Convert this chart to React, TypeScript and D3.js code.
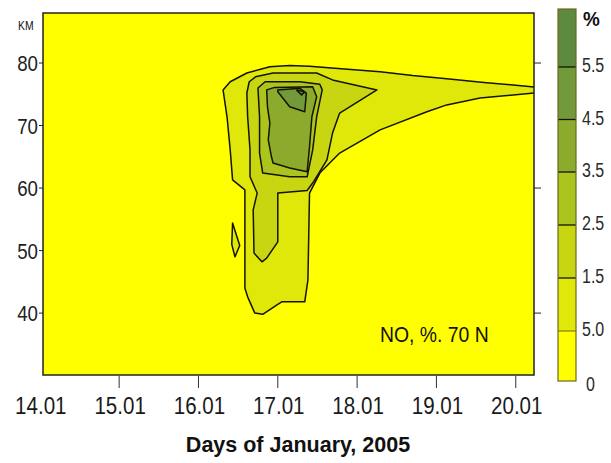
import React from "react";
import * as d3 from "d3";

const W = 611;
const H = 463;

// ---- axis data ----
const dayTicks = [14, 15, 16, 17, 18, 19, 20];
const dayTickLabels = ["14.01", "15.01", "16.01", "17.01", "18.01", "19.01", "20.01"];
const altTicks = [40, 50, 60, 70, 80];
const rightAltTicks = [40, 60, 80];

// ---- legend data ----
const levels = [0.5, 1.5, 2.5, 3.5, 4.5, 5.5];
const levelLabels = ["5.0", "1.5", "2.5", "3.5", "4.5", "5.5"];
const bandLows = [0, 0.5, 1.5, 2.5, 3.5, 4.5, 5.5];
const bandHighs = [0.5, 1.5, 2.5, 3.5, 4.5, 5.5, 6.5];
const bandColors = ["#ffff00", "#e0e80a", "#c8d612", "#abc41e", "#8cab2c", "#72993a", "#5c8a3e"];

// ---- contour lines, digitised as [day, altitude km] ----
const contour05Main: [number, number][] = [
  [16.31, 75.7], [16.4, 77.0], [16.61, 78.4], [16.9, 79.4], [17.15, 79.6], [17.4, 79.5],
  [17.8, 79.1], [18.29, 78.6], [18.7, 78.0], [19.13, 77.5], [19.6, 76.9], [20.3, 76.1],
  [20.3, 75.3], [19.55, 74.4], [19.13, 73.3], [18.88, 72.2], [18.29, 69.3], [17.78, 65.6],
  [17.53, 62.4], [17.4, 59.2], [17.38, 45.3], [17.34, 41.8], [17.05, 41.8], [16.99, 41.3],
  [16.81, 39.8], [16.71, 40.0], [16.62, 42.6], [16.585, 44.0], [16.585, 59.7], [16.43, 61.3],
  [16.4, 66.1], [16.36, 71.4],
];
const contour05Island: [number, number][] = [
  [16.43, 54.4], [16.52, 50.8], [16.46, 49.0], [16.42, 51.0],
];
const contour15: [number, number][] = [
  [16.61, 75.2], [16.64, 77.0], [16.72, 77.8], [16.94, 78.4], [17.49, 78.4], [17.69, 77.3],
  [18.25, 75.7], [17.78, 72.0], [17.69, 68.8], [17.62, 64.5], [17.44, 60.8], [17.37, 59.6],
  [17.0, 59.2], [17.0, 51.4], [16.86, 48.8], [16.8, 48.2], [16.7, 49.6], [16.69, 56.5],
  [16.74, 59.2], [16.65, 61.8], [16.65, 66.1], [16.62, 71.4],
];
const contour25: [number, number][] = [
  [16.75, 76.0], [16.84, 77.0], [17.28, 77.0], [17.53, 76.6], [17.56, 75.7], [17.49, 71.4],
  [17.44, 66.1], [17.38, 62.4], [17.37, 61.8], [17.15, 61.8], [16.81, 62.4], [16.77, 65.6],
  [16.77, 71.4],
];
const contour35: [number, number][] = [
  [16.86, 75.7], [16.96, 76.1], [17.44, 76.2], [17.49, 74.6], [17.43, 71.4], [17.4, 66.6],
  [17.37, 62.6], [17.15, 63.2], [16.94, 64.0], [16.92, 65.0], [16.88, 67.7], [16.9, 70.4],
  [16.87, 73.0],
];
const contour45: [number, number][] = [
  [17.0, 75.7], [17.28, 75.95], [17.36, 75.15], [17.34, 72.2], [17.15, 73.0], [17.0, 75.4],
];
const contour55: [number, number][] = [
  [17.24, 75.7], [17.34, 75.4], [17.3, 74.9], [17.24, 75.6],
];

const contourSet: { level: number; rings: [number, number][][] }[] = [
  { level: 0.5, rings: [contour05Main, contour05Island] },
  { level: 1.5, rings: [contour15] },
  { level: 2.5, rings: [contour25] },
  { level: 3.5, rings: [contour35] },
  { level: 4.5, rings: [contour45] },
  { level: 5.5, rings: [contour55] },
];

const FONT = "'Liberation Sans', Arial, sans-serif";

export default function App() {
  const plot = { left: 43, right: 534, top: 13, bottom: 375 };
  const x = d3.scaleLinear().domain([14.04, 20.23]).range([plot.left, plot.right]);
  const y = d3.scaleLinear().domain([30.1, 88]).range([plot.bottom, plot.top]);

  const line = d3
    .line<[number, number]>()
    .x((d) => x(d[0]))
    .y((d) => y(d[1]))
    .curve(d3.curveLinearClosed);

  const colorOf = d3.scaleThreshold<number, string>().domain(levels).range(bandColors);

  // legend scale (value -> y)
  const legX = 558;
  const legW = 18;
  const legY = d3
    .scaleLinear()
    .domain([0, 0.5, 1.5, 2.5, 3.5, 4.5, 5.5, 6.5])
    .range([381, 331, 278, 225, 172, 119.5, 67, 9]);

  return (
    <svg width={W} height={H} style={{ display: "block", position: "absolute", left: 0, top: 0 }}>
      <rect x={0} y={0} width={W} height={H} fill="#ffffff" />
      <defs>
        <clipPath id="plotClip">
          <rect x={plot.left} y={plot.top} width={plot.right - plot.left} height={plot.bottom - plot.top} />
        </clipPath>
      </defs>

      {/* plot background */}
      <rect
        x={plot.left}
        y={plot.top}
        width={plot.right - plot.left}
        height={plot.bottom - plot.top}
        fill={bandColors[0]}
      />

      {/* filled contours */}
      <g clipPath="url(#plotClip)">
        {contourSet.map((c) =>
          c.rings.map((r, i) => (
            <path
              key={`${c.level}-${i}`}
              d={line(r) || ""}
              fill={colorOf(c.level)}
              stroke="#141400"
              strokeWidth={1.5}
              strokeLinejoin="round"
            />
          ))
        )}
      </g>

      {/* plot frame */}
      <rect
        x={plot.left}
        y={plot.top}
        width={plot.right - plot.left}
        height={plot.bottom - plot.top}
        fill="none"
        stroke="#222"
        strokeWidth={1.5}
      />

      {/* left axis */}
      {altTicks.map((t) => (
        <g key={`ya${t}`}>
          <line x1={plot.left - 4} x2={plot.left} y1={y(t)} y2={y(t)} stroke="#222" strokeWidth={1} />
          <text
            transform={`translate(${plot.left - 5},${y(t) + 8}) scale(0.85,1)`}
            textAnchor="end"
            fontFamily={FONT}
            fontSize={22}
            fill="#222"
          >
            {t}
          </text>
        </g>
      ))}
      <text transform={`translate(18,30) scale(0.8,1)`} fontFamily={FONT} fontSize={13} fill="#111">
        KM
      </text>

      {/* right ticks */}
      {rightAltTicks.map((t) => (
        <line key={`yr${t}`} x1={plot.right} x2={plot.right + 7} y1={y(t)} y2={y(t)} stroke="#222" strokeWidth={1} />
      ))}

      {/* bottom axis */}
      {dayTicks.map((d, i) => (
        <g key={`xd${d}`}>
          {x(d) > plot.left + 1 && (
            <line x1={x(d)} x2={x(d)} y1={plot.bottom + 1} y2={plot.bottom + 13} stroke="#333" strokeWidth={1} />
          )}
          <text
            transform={`translate(${x(d) + 1},${414}) scale(0.84,1)`}
            textAnchor="middle"
            fontFamily={FONT}
            fontSize={24.5}
            fill="#1a1a1a"
          >
            {dayTickLabels[i]}
          </text>
        </g>
      ))}
      <text
        x={298}
        y={452}
        textAnchor="middle"
        fontFamily={FONT}
        fontSize={21.5}
        fontWeight="bold"
        fill="#111"
      >
        Days of January, 2005
      </text>

      {/* annotation */}
      <text transform={`translate(380,342) scale(0.88,1)`} fontFamily={FONT} fontSize={22} fill="#111">
        NO, %. 70 N
      </text>

      {/* colour bar */}
      {bandLows.map((lo, i) => (
        <rect
          key={`lb${i}`}
          x={legX}
          y={legY(bandHighs[i])}
          width={legW}
          height={legY(lo) - legY(bandHighs[i])}
          fill={bandColors[i]}
        />
      ))}
      {levels.map((lv, i) => (
        <line
          key={`ll${i}`}
          x1={legX}
          x2={legX + legW}
          y1={legY(lv)}
          y2={legY(lv)}
          stroke={i === 0 ? "#8a8a10" : "#141400"}
          strokeWidth={1.3}
        />
      ))}
      <rect
        x={legX}
        y={legY(6.5)}
        width={legW}
        height={legY(0) - legY(6.5)}
        fill="none"
        stroke="#6a6a20"
        strokeWidth={1.2}
      />
      {levels.map((lv, i) => (
        <text
          key={`lt${i}`}
          transform={`translate(582,${legY(lv) + 5}) scale(0.8,1)`}
          fontFamily={FONT}
          fontSize={20}
          fill="#2a2a2a"
        >
          {levelLabels[i]}
        </text>
      ))}
      <text transform={`translate(586,${legY(0) + 10}) scale(0.8,1)`} fontFamily={FONT} fontSize={20} fill="#2a2a2a">
        0
      </text>
      <text transform={`translate(583,26) scale(0.9,1)`} fontFamily={FONT} fontSize={21} fontWeight="bold" fill="#111">
        %
      </text>
    </svg>
  );
}
